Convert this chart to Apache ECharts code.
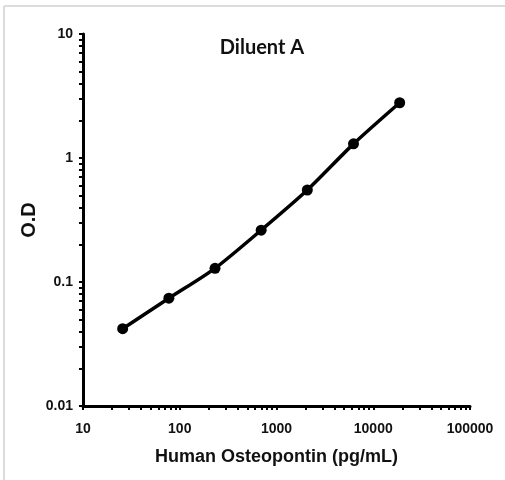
<!DOCTYPE html>
<html>
<head>
  <title>Diluent A</title>
  <script src="https://cdn.jsdelivr.net/npm/echarts@6.0.0/dist/echarts.min.js"></script>
  <style>
    html, body { margin: 0; padding: 0; background: #fff; }
    #graph { width: 505px; height: 480px; }
  </style>
</head>
<body>
  <div id="graph"></div>

  <script>
    // standard curve data (pg/mL vs O.D)
    var concentration = [25.7, 77.2, 231.5, 694.4, 2083, 6250, 18750];
    var od = [0.042, 0.074, 0.129, 0.262, 0.552, 1.30, 2.79];

    var xLabels = [10, 100, 1000, 10000, 100000];
    var yLabels = [0.01, 0.1, 1, 10];

    var titleText = 'Diluent A';
    var xName = 'Human Osteopontin (pg/mL)';
    var yName = 'O.D';

    // log ticks: 1..9 in every decade
    function logTicks(decades) {
      var out = [];
      for (var i = 0; i < decades.length - 1; i++) {
        for (var k = 1; k < 10; k++) out.push(+(decades[i] * k).toPrecision(6));
      }
      out.push(decades[decades.length - 1]);
      return out;
    }

    function plain(v) { return String(+v.toPrecision(6)); }

    var font = "'Liberation Sans', Arial, sans-serif";

    var myChart = echarts.init(document.getElementById('graph'));

    var option = {
      backgroundColor: '#fff',
      animation: false,
      title: {
        text: titleText,
        left: 257,
        top: 27,
        textAlign: 'center',
        textStyle: { fontFamily: 'Lato', fontWeight: 'bold', fontSize: 20, color: '#111' }
      },
      graphic: [
        { type: 'line', shape: { x1: 4, y1: 6, x2: 505, y2: 6 }, style: { stroke: '#dcdcdc', lineWidth: 2 } },
        { type: 'line', shape: { x1: 4, y1: 6, x2: 4, y2: 480 }, style: { stroke: '#dcdcdc', lineWidth: 2 } }
      ],
      grid: { left: 83, right: 35, top: 34, bottom: 74, containLabel: false, outerBoundsMode: 'none' },
      xAxis: {
        type: 'log',
        logBase: 10,
        min: 10,
        max: 100000,
        name: xName,
        nameLocation: 'middle',
        nameGap: 36,
        nameMoveOverlap: false,
        nameTextStyle: { fontFamily: font, fontWeight: 'bold', fontSize: 18, color: '#111' },
        axisLine: { lineStyle: { color: '#000', width: 3 } },
        axisTick: { show: true, length: 4, customValues: logTicks(xLabels), lineStyle: { color: '#000', width: 2 } },
        axisLabel: { customValues: xLabels, margin: 11, fontFamily: font, fontWeight: 'bold', fontSize: 14, color: '#111', formatter: plain },
        splitLine: { show: false }
      },
      yAxis: {
        type: 'log',
        logBase: 10,
        min: 0.01,
        max: 10,
        name: yName,
        nameLocation: 'middle',
        nameGap: 36,
        nameMoveOverlap: false,
        nameRotate: 90,
        nameTextStyle: { fontFamily: font, fontWeight: 'bold', fontSize: 20, color: '#111' },
        axisLine: { lineStyle: { color: '#000', width: 3 } },
        axisTick: { show: true, length: 4, customValues: logTicks(yLabels), lineStyle: { color: '#000', width: 2 } },
        axisLabel: { customValues: yLabels, margin: 10, fontFamily: font, fontWeight: 'bold', fontSize: 14, color: '#111', formatter: plain },
        splitLine: { show: false }
      },
      series: [{
        type: 'line',
        data: concentration.map(function (c, i) { return [c, od[i]]; }),
        smooth: 0.25,
        symbol: 'circle',
        symbolSize: 11,
        itemStyle: { color: '#000' },
        lineStyle: { color: '#000', width: 3.5 }
      }]
    };

    myChart.setOption(option);
  </script>
</body>
</html>
